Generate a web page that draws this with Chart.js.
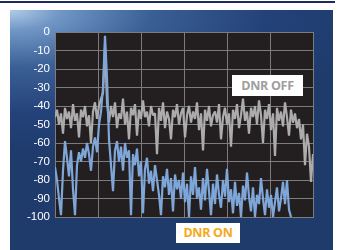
<!DOCTYPE html>
<html>
<head>
<meta charset="utf-8">
<script src="https://cdn.jsdelivr.net/npm/chart.js@4"></script>
<style>
  html, body { margin: 0; padding: 0; background: #fff; }
  #wrap { position: relative; width: 350px; height: 250px; overflow: hidden; }
  .topline { position: absolute; left: 0; top: 1px; width: 335px; height: 2px; background: #1b2b5c; }
  .panel {
    position: absolute; left: 10px; top: 10px; width: 323px; height: 240px;
    background: radial-gradient(ellipse 110% 60% at 0% 0%, #b2cce6 0%, #7197c6 14%, #3a5f95 40%, #24427a 72%, #1f3b6c 100%);
  }
  canvas { position: absolute; left: 0; top: 0; }
  .tag {
    position: absolute; background: #fff; font-family: "Open Sans", sans-serif;
    font-weight: 700; font-size: 12.5px; line-height: 21px; text-align: center; letter-spacing: -0.3px;
  }
  #off { left: 232px; top: 75px; width: 71px; height: 21px; color: #9e9e9e; }
  #on { left: 176px; top: 223px; width: 64px; height: 20px; line-height: 20px; color: #f6a91a; }
</style>
</head>
<body>
<div id="wrap">
  <div class="topline"></div>
  <div class="panel"></div>
  <canvas id="chart" width="350" height="250"></canvas>
  <div class="tag" id="off">DNR OFF</div>
  <div class="tag" id="on">DNR ON</div>
</div>
<script>
// level in dB, one sample every 2 px across the plot
const dnrOff = [
  -46, -42, -50, -44, -55, -41, -47, -43, -52, -39,
  -48, -44, -57, -42, -46, -40, -51, -45, -60, -43,
  -38, -47, -40, -36, -33, -8, -38, -49, -40, -46,
  -38, -52, -44, -47, -36, -50, -43, -58, -41, -45,
  -39, -56, -42, -47, -37, -46, -43, -51, -40, -45,
  -44, -66, -41, -48, -38, -52, -43, -47, -58, -42,
  -46, -39, -50, -44, -41, -57, -45, -40, -49, -43,
  -47, -38, -53, -44, -64, -42, -48, -40, -51, -45,
  -43, -49, -39, -58, -46, -41, -50, -44, -62, -42,
  -47, -39, -52, -45, -36, -48, -43, -55, -41, -46,
  -40, -50, -37, -45, -60, -42, -47, -39, -53, -44,
  -67, -41, -48, -43, -51, -38, -46, -56, -42, -49,
  -44, -52, -47, -58, -50, -72, -55, -62, -81, -66
];
const dnrOn = [
  -73, -80, -90, -99, -75, -59, -68, -78, -64, -85,
  -99, -72, -65, -70, -63, -68, -60, -66, -75, -62,
  -57, -65, -50, -43, -30, -2, -25, -58, -72, -86,
  -64, -59, -70, -62, -75, -60, -68, -64, -99, -66,
  -72, -63, -78, -70, -98, -74, -68, -82, -75, -86,
  -72, -80, -88, -99, -78, -84, -74, -88, -79, -97,
  -77, -85, -80, -90, -76, -92, -82, -100, -78, -88,
  -73, -90, -84, -96, -79, -91, -74, -86, -99, -82,
  -93, -77, -88, -95, -80, -89, -74, -92, -85, -98,
  -81, -94, -87, -100, -83, -91, -76, -89, -97, -84,
  -100, -88, -93, -79, -90, -99, -85, -95, -88, -100,
  -92, -84, -97, -90, -81, -93, -80, -96, -100
];
const yTicks = [0, -10, -20, -30, -40, -50, -60, -70, -80, -90, -100];

const pts = arr => arr.map((v, i) => ({ x: i, y: v }));

const plotBg = {
  id: 'plotBg',
  beforeDraw(chart) {
    const a = chart.chartArea, c = chart.ctx;
    c.save();
    c.fillStyle = '#231f20';
    c.fillRect(a.left, a.top, a.right - a.left, a.bottom - a.top);
    c.restore();
  }
};

new Chart(document.getElementById('chart'), {
  type: 'line',
  data: {
    datasets: [
      { label: 'DNR ON', data: pts(dnrOn), borderColor: '#7ea6d8', borderWidth: 2.2, borderJoinStyle: 'bevel', pointRadius: 0, tension: 0, order: 1 },
      { label: 'DNR OFF', data: pts(dnrOff), borderColor: '#acacac', borderWidth: 2.2, borderJoinStyle: 'bevel', pointRadius: 0, tension: 0, order: 2 }
    ]
  },
  options: {
    responsive: false,
    animation: false,
    layout: { padding: { left: 10, right: 37, top: 32, bottom: 33 } },
    plugins: { legend: { display: false }, tooltip: { enabled: false } },
    scales: {
      x: {
        type: 'linear', min: 0, max: 129,
        ticks: { display: false, stepSize: 21.5 },
        grid: { color: '#7c7c7c', lineWidth: 1, drawTicks: false },
        border: { color: '#7c7c7c' },
        afterFit: s => { s.height = 0; }
      },
      y: {
        min: -100, max: 0,
        afterBuildTicks: s => { s.ticks = yTicks.map(v => ({ value: v })); },
        ticks: { color: '#ffffff', padding: 5, font: { family: 'Liberation Sans', size: 11.5 } },
        grid: { color: '#7c7c7c', lineWidth: 1, drawTicks: false },
        border: { color: '#7c7c7c' },
        afterFit: s => { s.width = 45; }
      }
    }
  },
  plugins: [plotBg]
});
</script>
</body>
</html>
